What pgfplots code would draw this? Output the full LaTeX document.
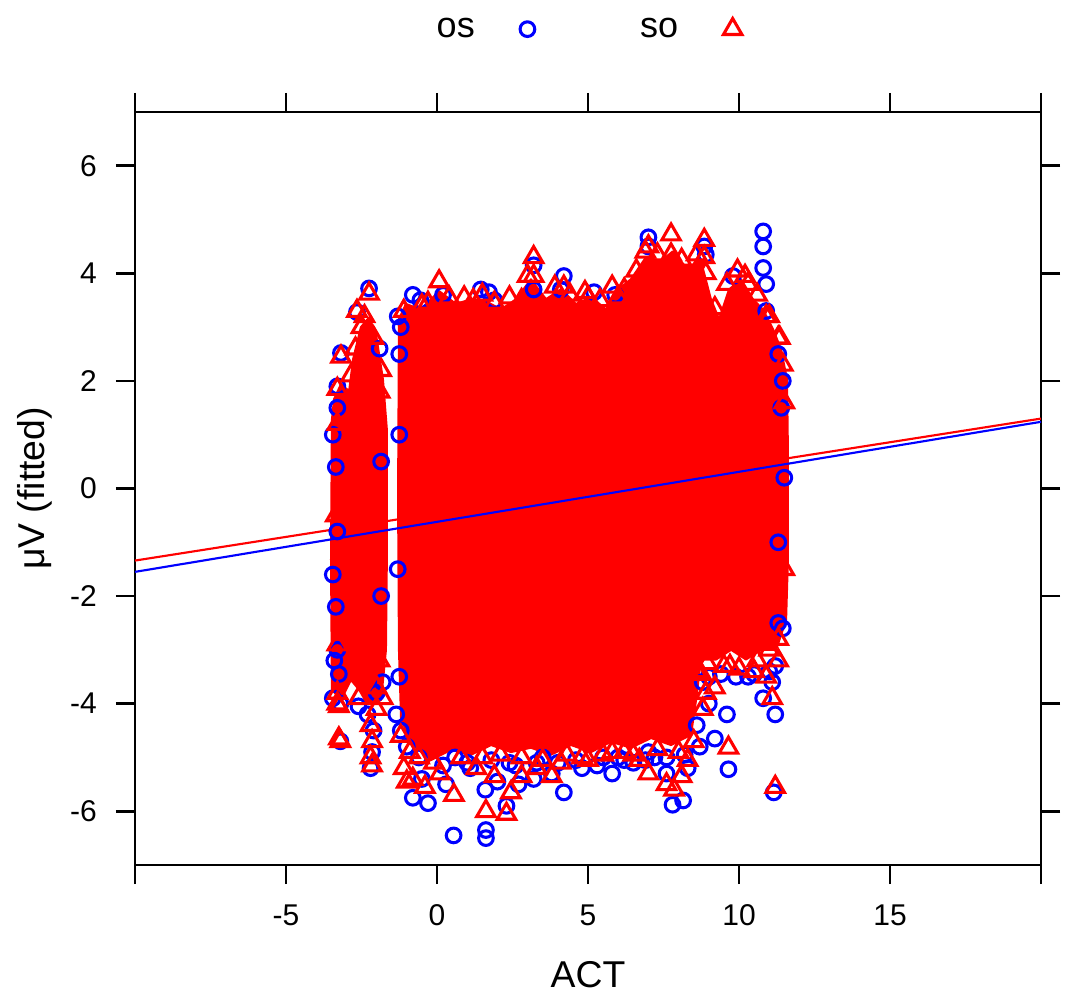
\documentclass[border=0pt]{standalone}
\usepackage{fontspec}
\setmainfont{Liberation Sans}
\usepackage{pgfplots}
\pgfplotsset{compat=1.18}
\definecolor{rblue}{RGB}{0,0,255}
\definecolor{rred}{RGB}{255,0,0}
\begin{document}
\begin{tikzpicture}
\begin{axis}[
 name=ax,
 scale only axis, width=679.5pt, height=564.75pt,
 xmin=-10, xmax=20, ymin=-7, ymax=7,
 axis line style={line width=2pt},
 tick align=outside, major tick length=14.25pt,
 every tick/.style={black, line width=2pt},
 xtick={-10,-5,0,5,10,15,20},
 xticklabels={,-5,0,5,10,15,},
 ytick={-6,-4,-2,0,2,4,6},
 tick label style={font=\fontsize{22.5}{26}\selectfont},
 /pgf/number format/assume math mode=true,
 xticklabel style={anchor=base, inner sep=0pt, yshift=-30.75pt},
 yticklabel style={anchor=east, inner sep=0pt, xshift=-14.25pt},
 xlabel={ACT}, ylabel={μV (fitted)},
 label style={font=\fontsize{28}{32}\selectfont},
 xlabel style={at={(axis description cs:0.5,-0.1633)}, anchor=base},
 ylabel style={at={(axis description cs:-0.1004,0.5)}, anchor=base},
 legend style={at={(axis description cs:0.50,1.110)}, anchor=center,
   draw=none, fill=none, font=\fontsize{27}{31}\selectfont,
   legend columns=2,
   /tikz/every odd column/.append style={column sep=32pt},
   /tikz/every even column/.append style={column sep=77pt}},
 legend plot pos=right,
]
% os: blue circles
\addplot[only marks, mark=o, mark size=5.5pt, rblue, line width=2.3pt] coordinates {
(-2.25,3.72) (-2.65,3.28) (-3.18,2.52) (-3.3,1.9) (-3.3,1.5) (-3.35,0.4) (-3.3,-0.8)
(-3.35,-2.2) (-3.3,-3.0) (-3.25,-3.45) (-3.2,-4.0) (-3.2,-4.7) (-2.2,-5.2) (-2.15,-4.9)
(-2.1,-4.5) (-2.3,-4.2) (-2.0,-3.8) (-1.85,-2.0) (-1.85,0.5) (-1.9,2.6)
(-3.45,-3.9) (-3.4,-3.2) (-3.45,1.0) (-3.45,-1.6) (-2.6,-4.05) (-1.8,-3.6)
(-0.8,3.6) (-1.2,3.0) (-0.55,3.5) (0.2,3.6) (1.45,3.7) (1.72,3.65) (1.9,3.5)
(3.2,4.15) (3.2,3.7) (4.2,3.95) (4.1,3.7) (5.2,3.65) (5.9,3.6) (7.0,4.67) (7.0,4.5)
(8.85,4.5) (8.9,4.35) (9.8,3.95) (10.8,4.78) (10.8,4.5) (10.8,4.1) (10.9,3.8) (10.9,3.3)
(11.3,2.5) (11.4,1.5) (11.3,-1.0) (11.3,-2.5) (11.2,-3.3) (11.1,-3.6) (11.2,-4.2)
(11.15,-5.65) (10.8,-3.9) (10.3,-3.5) (9.6,-4.2) (9.2,-4.65) (9.65,-5.22) (9.0,-4.0)
(8.8,-3.6) (8.6,-4.4) (8.3,-5.2) (8.15,-5.8) (7.8,-5.88) (7.6,-5.3) (7.2,-5.0) (6.5,-5.1)
(5.8,-5.3) (5.5,-5.0) (4.8,-5.2) (4.2,-5.65) (3.8,-5.3) (3.2,-5.4) (2.7,-5.5) (2.3,-5.9)
(2.0,-5.45) (1.62,-6.35) (1.62,-6.5) (1.6,-5.6) (1.1,-5.2) (0.55,-6.45) (0.3,-5.5)
(-0.3,-5.85) (-0.8,-5.75) (-0.5,-5.4) (-1.0,-4.8) (-1.2,-4.5) (-1.25,-3.5) (-1.3,-1.5)
(-1.25,1.0) (-1.25,2.5) (0.6,-5.0) (2.4,-5.1) (3.5,-5.0) (6.0,-5.0) (7.0,-4.9)
(-0.6,-5.0) (0.2,-5.15) (1.0,-5.1) (1.8,-5.05) (2.6,-5.15) (3.3,-5.1) (4.0,-5.1)
(4.6,-5.05) (5.3,-5.15) (6.2,-5.05) (6.9,-5.05) (7.6,-5.0) (8.2,-4.95) (8.7,-4.8)
(9.0,-3.5) (9.4,-3.45) (9.9,-3.5) (10.5,-3.45) (11.0,-3.4) (11.45,-2.6) (11.5,0.2)
(11.45,2.0) (-1.3,3.2) (-1.35,-4.2)
};
\addlegendentry{os}
% dense mass of so points (outline of the overlapping markers)
\addplot[forget plot, draw=rred, fill=rred, line width=1.5pt, line join=round] coordinates {
(-3.41,1.66) (-3.18,1.94) (-2.91,1.81) (-2.78,2.40) (-2.52,3.0) (-2.25,3.18) (-2.02,2.87)
(-1.79,2.03) (-1.66,1.10) (-1.66,-1.32) (-1.69,-3.0) (-1.85,-3.93) (-2.19,-4.02)
(-2.58,-3.74) (-2.85,-3.56) (-3.18,-3.93) (-3.48,-3.74) (-3.51,-1.32) (-3.48,1.28)
} -- cycle;
\addplot[forget plot, draw=rred, fill=rred, line width=1.5pt, line join=round] coordinates {
(-1.26,3.15) (-1.03,3.43) (-0.53,3.33) (0.07,3.67) (0.63,3.43) (1.13,3.52) (1.62,3.48)
(2.12,3.33) (2.62,3.52) (3.11,3.89) (3.61,3.52) (4.11,3.71) (4.60,3.43) (5.10,3.56)
(5.60,3.33) (5.93,3.67) (6.42,3.89) (6.92,4.30) (7.42,4.23) (7.81,4.41) (8.25,4.11)
(8.74,4.23) (9.07,3.52) (9.34,3.15) (9.67,3.70) (10.07,3.89) (10.46,3.52) (10.79,3.33)
(11.13,2.96) (11.39,2.59) (11.59,2.03) (11.62,0.73) (11.62,-1.32) (11.56,-2.44)
(11.23,-3.0) (10.73,-3.0) (10.23,-3.18) (9.74,-3.0) (9.24,-3.18) (8.74,-3.18) (8.58,-3.93)
(8.41,-4.58) (7.75,-4.77) (7.09,-4.64) (6.42,-4.82) (5.76,-4.71) (5.10,-4.90) (4.44,-4.77)
(3.77,-4.95) (3.11,-4.82) (2.45,-4.90) (1.79,-4.77) (1.13,-4.95) (0.46,-4.86) (-0.20,-5.05)
(-0.79,-4.77) (-1.19,-4.30) (-1.26,-3.0) (-1.29,-0.2)
} -- cycle;
% so: red triangles
\addplot[only marks, mark=triangle, mark size=8pt, rred, line width=2.3pt] coordinates {
(-2.25,3.62) (-2.65,3.3) (-2.5,3.0) (-3.18,2.45) (-3.3,1.2) (-3.35,-0.5) (-3.3,-2.9)
(-3.3,-3.8) (-3.25,-4.05) (-3.2,-4.7) (-3.25,-4.65) (-2.2,-4.4) (-2.15,-4.7) (-2.2,-5.0)
(-2.15,-5.15) (-2.0,-3.7) (-1.9,-3.2) (-1.9,1.8)
(-3.3,1.85) (-2.85,2.1) (-2.7,2.6) (-2.4,3.2) (-2.1,2.8) (-1.85,2.2)
(-3.3,-4.0) (-2.6,-3.9) (-2.0,-4.1) (-1.8,-3.9)
(0.07,3.85) (-0.5,3.4) (1.2,3.5) (1.5,3.6) (2.8,3.5) (3.2,4.3) (3.2,3.95) (4.2,3.75)
(5.0,3.55) (6.0,3.55) (6.2,3.7) (7.0,4.5) (7.75,4.72) (7.75,4.35) (8.85,4.62) (8.85,4.3)
(8.9,4.0) (9.95,4.05) (10.3,3.8) (10.9,3.2) (11.35,2.8) (11.45,2.3) (11.5,1.6) (11.5,-1.5)
(-1.1,3.3) (-0.3,3.45) (0.4,3.55) (0.9,3.55) (1.9,3.45) (2.4,3.55) (3.0,3.95) (3.9,3.75)
(4.4,3.6) (4.9,3.65) (5.4,3.5) (5.8,3.75) (6.6,4.05) (6.9,4.4) (7.3,4.35) (8.1,4.25)
(8.6,4.35) (9.2,3.35) (9.6,3.8) (10.2,3.95) (10.6,3.6) (11.0,3.2) (11.3,2.8)
(11.3,-2.8) (11.0,-3.0) (10.9,-3.5) (11.1,-3.9) (11.2,-5.55) (10.5,-3.4) (9.7,-3.3)
(9.65,-4.82) (9.2,-3.7) (8.9,-3.8) (8.8,-4.1) (8.6,-3.4) (8.3,-5.05) (8.1,-5.35)
(7.85,-5.6) (7.6,-5.5) (7.0,-5.3) (6.7,-5.05) (6.2,-4.9) (5.5,-4.95) (4.8,-5.0) (4.1,-5.1)
(3.8,-5.35) (3.3,-5.2) (2.8,-5.35) (2.45,-5.65) (2.3,-6.05) (1.62,-6.0) (1.9,-5.35)
(1.3,-5.2) (0.56,-5.7) (0.1,-5.3) (-0.4,-5.55) (-0.8,-5.4) (-1.0,-5.45) (-1.1,-5.2)
(-0.6,-5.0) (-1.2,-4.6)
(-0.9,-4.9) (-0.1,-5.1) (0.8,-5.0) (1.5,-5.0) (2.1,-4.95) (2.8,-5.0) (3.5,-5.05)
(4.3,-4.95) (5.0,-5.05) (5.8,-4.9) (6.5,-4.95) (7.3,-4.85) (8.0,-4.9) (8.5,-4.7)
(9.5,-3.3) (10.0,-3.35) (10.6,-3.2) (11.3,-3.2) (8.75,-3.45) (8.95,-3.25)
};
\addlegendentry{so}
% fitted lines
\addplot[forget plot, rred, line width=1.6pt] coordinates {(-10,-1.34) (20,1.30)};
\addplot[forget plot, rblue, line width=1.6pt] coordinates {(-10,-1.55) (20,1.24)};
\end{axis}
\pgfresetboundingbox
\path[use as bounding box] ([xshift=-101.25pt,yshift=-99pt]ax.south west) rectangle ([xshift=19.5pt,yshift=84pt]ax.north east);
\end{tikzpicture}
\end{document}
